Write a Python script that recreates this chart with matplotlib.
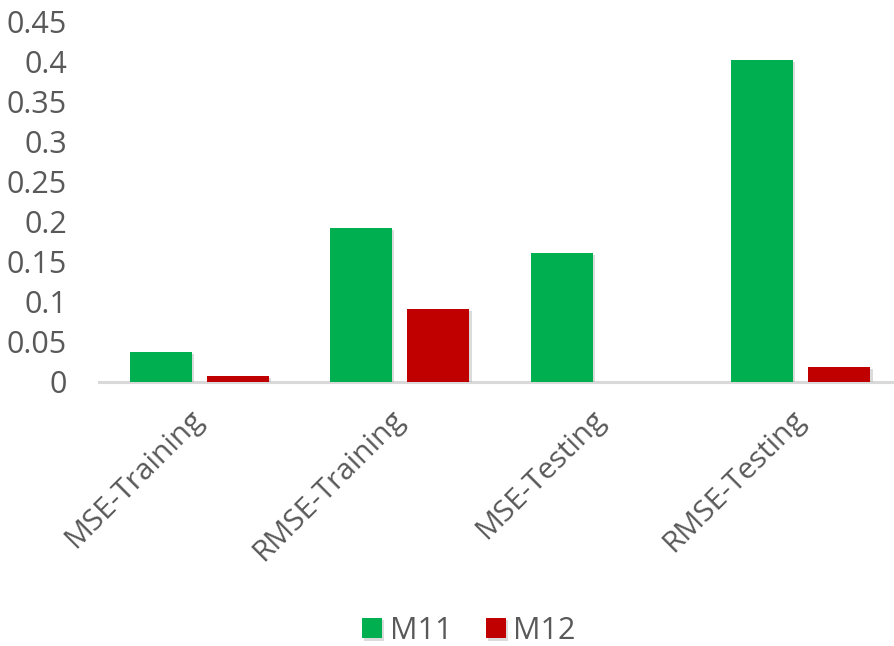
import numpy as np
import matplotlib.pyplot as plt
import matplotlib.patheffects as pe

categories = ["MSE-Training", "RMSE-Training", "MSE-Testing", "RMSE-Testing"]
m11 = [0.037, 0.192, 0.161, 0.402]
m12 = [0.0075, 0.0905, 0.0, 0.018]
yticks = [0, 0.05, 0.1, 0.15, 0.2, 0.25, 0.3, 0.35, 0.4, 0.45]
ytick_labels = ["0", "0.05", "0.1", "0.15", "0.2", "0.25", "0.3", "0.35", "0.4", "0.45"]

plt.rcParams['font.family'] = ['Open Sans', 'DejaVu Sans']

fig = plt.figure(figsize=(8.94, 6.46), dpi=100)
ax = fig.add_axes([99 / 894, 264.3 / 646, 802 / 894, 360 / 646])

x = np.arange(len(categories))
w = 0.31
shadow = [pe.SimplePatchShadow(offset=(1.5, -1.5), shadow_rgbFace='#999999', alpha=0.35), pe.Normal()]
b1 = ax.bar(x - 0.0375 - w / 2, m11, width=w, color='#00B050', label='M11', zorder=3)
b2 = ax.bar(x + 0.0375 + w / 2, m12, width=w, color='#C00000', label='M12', zorder=3)
for b in list(b1) + list(b2):
    if b.get_height() > 0:
        b.set_path_effects(shadow)

ax.set_xlim(-0.5, 3.5)
ax.set_ylim(0, 0.45)
ax.set_yticks(yticks)
ax.set_yticklabels(ytick_labels)
ax.set_xticks(x)
ax.set_xticklabels(categories, rotation=45, ha='right', va='center', rotation_mode='anchor')
ax.tick_params(axis='y', length=0, pad=23, labelsize=22, labelcolor='#595959')
ax.tick_params(axis='x', length=0, pad=24, labelsize=21.5, labelcolor='#595959')

for s in ['top', 'right', 'left']:
    ax.spines[s].set_visible(False)
ax.spines['bottom'].set_color('#D9D9D9')
ax.spines['bottom'].set_linewidth(2.2)
ax.spines['bottom'].set_zorder(2)

fig.legend(handles=[b1, b2], labels=['M11', 'M12'], loc='center', bbox_to_anchor=(469 / 894, 1 - 631 / 646),
           ncol=2, frameon=False, fontsize=22, labelcolor='#595959', handlelength=0.65, handleheight=0.65,
           handletextpad=0.25, columnspacing=1.1)

plt.savefig("out.png", dpi=100)
